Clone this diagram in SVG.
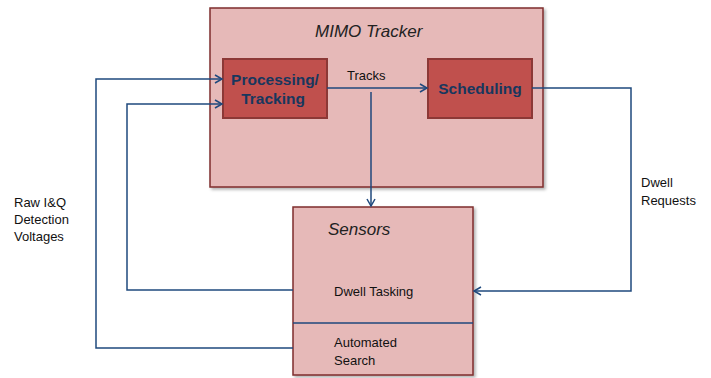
<svg xmlns="http://www.w3.org/2000/svg" width="711" height="378" viewBox="0 0 711 378">
<style>
.outer{fill:#E6B9B8;stroke:#7F2E2C;stroke-width:1.5}
.inner{fill:#C0504D;stroke:#8C3836;stroke-width:2}
.bt{font-family:"Liberation Sans",Arial,sans-serif;font-weight:bold;font-size:15.5px;fill:#17375E;text-anchor:middle}
.it{font-family:"Liberation Sans",Arial,sans-serif;font-style:italic;font-size:17px;fill:#222}
.lb{font-family:"Liberation Sans",Arial,sans-serif;font-size:13px;fill:#111}
.ln{fill:none;stroke:#1F497D;stroke-width:1.5}
</style>
<defs>
<marker id="ah" markerWidth="10" markerHeight="10" refX="8" refY="5" orient="auto" markerUnits="userSpaceOnUse">
<path d="M1,1 L8,5 L1,9" fill="none" stroke="#1F497D" stroke-width="1.5"/>
</marker>
<filter id="sh" x="-5%" y="-5%" width="115%" height="115%">
<feDropShadow dx="2" dy="2" stdDeviation="1.5" flood-color="#000" flood-opacity="0.3"/>
</filter>
</defs>
<g id="mimo-tracker">
<rect class="outer" x="210" y="8" width="333" height="179" filter="url(#sh)"/>
<text class="it" x="315" y="37">MIMO Tracker</text>
</g>
<g id="processing">
<rect class="inner" x="223" y="59" width="104" height="59"/>
<text class="bt" x="275" y="85">Processing/</text>
<text class="bt" x="273" y="104">Tracking</text>
</g>
<g id="scheduling">
<rect class="inner" x="428" y="59" width="104" height="59"/>
<text class="bt" x="480" y="94">Scheduling</text>
</g>
<g id="sensors">
<rect class="outer" x="293" y="207" width="180" height="168" filter="url(#sh)"/>
<line x1="293" y1="323" x2="473" y2="323" stroke="#1F497D" stroke-width="1.5"/>
<text class="it" x="328" y="235">Sensors</text>
<text class="lb" x="334" y="296">Dwell Tasking</text>
<text class="lb" x="334" y="347">Automated</text>
<text class="lb" x="334" y="365">Search</text>
</g>
<g id="connectors">
<line class="ln" x1="327" y1="88" x2="427" y2="88" marker-end="url(#ah)"/>
<text class="lb" x="347" y="80">Tracks</text>
<line class="ln" x1="371" y1="92" x2="371" y2="206" marker-end="url(#ah)"/>
<polyline class="ln" points="293,348 96,348 96,79 222,79" marker-end="url(#ah)"/>
<polyline class="ln" points="293,290 127,290 127,104 222,104" marker-end="url(#ah)"/>
<polyline class="ln" points="532,88 631,88 631,291 474,291" marker-end="url(#ah)"/>
<text class="lb" x="14" y="207">Raw I&amp;Q</text>
<text class="lb" x="14" y="224">Detection</text>
<text class="lb" x="14" y="241">Voltages</text>
<text class="lb" x="641" y="187">Dwell</text>
<text class="lb" x="641" y="205">Requests</text>
</g>
</svg>
